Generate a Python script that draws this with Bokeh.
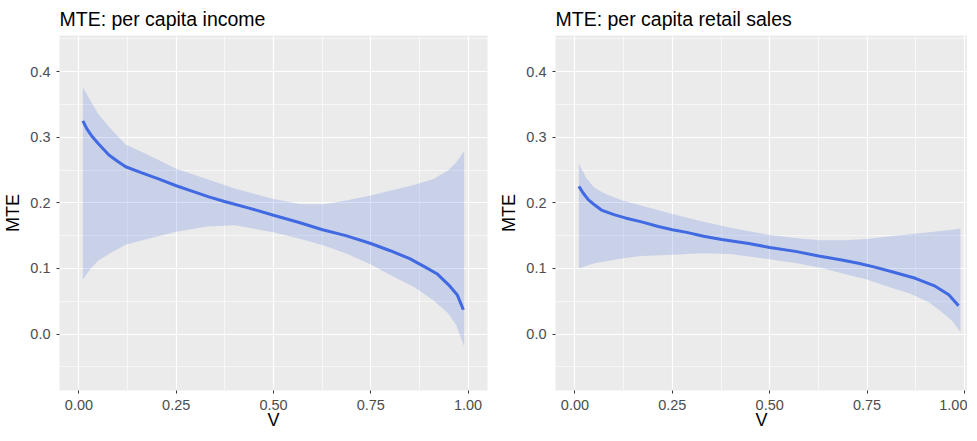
from bokeh.plotting import figure
from bokeh.layouts import row
from bokeh.models import FixedTicker, Range1d
from bokeh.embed import file_html
from bokeh.resources import INLINE

# ---- data ----
band_v = [0.01, 0.03, 0.05, 0.08, 0.12, 0.17, 0.25, 0.33, 0.40, 0.50,
          0.57, 0.63, 0.69, 0.75, 0.81, 0.86, 0.91, 0.95, 0.97, 0.99]

income_upper = [0.376, 0.355, 0.335, 0.314, 0.289, 0.275, 0.252, 0.236, 0.222, 0.206,
                0.198, 0.198, 0.204, 0.211, 0.220, 0.227, 0.236, 0.250, 0.262, 0.279]
income_lower = [0.083, 0.100, 0.112, 0.123, 0.136, 0.144, 0.156, 0.164, 0.166, 0.155,
                0.145, 0.135, 0.122, 0.106, 0.087, 0.072, 0.052, 0.031, 0.013, -0.019]

income_v = [0.01, 0.02, 0.034, 0.05, 0.077, 0.10, 0.12, 0.16, 0.206, 0.25, 0.30, 0.334,
            0.374, 0.437, 0.50, 0.566, 0.626, 0.686, 0.75, 0.80, 0.85, 0.89, 0.92,
            0.95, 0.972, 0.988]
income_mte = [0.325, 0.313, 0.301, 0.290, 0.273, 0.263, 0.255, 0.246, 0.236, 0.226, 0.216,
              0.209, 0.202, 0.192, 0.181, 0.170, 0.159, 0.150, 0.138, 0.127, 0.115, 0.102,
              0.092, 0.075, 0.060, 0.037]

retail_upper = [0.259, 0.237, 0.223, 0.213, 0.204, 0.196, 0.183, 0.171, 0.162, 0.151,
                0.146, 0.143, 0.143, 0.145, 0.149, 0.152, 0.155, 0.158, 0.159, 0.161]
retail_lower = [0.100, 0.104, 0.108, 0.111, 0.115, 0.119, 0.121, 0.123, 0.122, 0.114,
                0.108, 0.101, 0.092, 0.083, 0.071, 0.062, 0.048, 0.030, 0.019, 0.003]

retail_v = [0.01, 0.021, 0.034, 0.05, 0.068, 0.10, 0.129, 0.171, 0.214, 0.25, 0.287, 0.33,
            0.377, 0.446, 0.50, 0.566, 0.626, 0.685, 0.728, 0.77, 0.814, 0.874, 0.925,
            0.96, 0.985]
retail_mte = [0.225, 0.215, 0.205, 0.197, 0.189, 0.182, 0.177, 0.171, 0.164, 0.159, 0.155,
              0.149, 0.144, 0.138, 0.132, 0.126, 0.119, 0.113, 0.108, 0.102, 0.095, 0.085,
              0.073, 0.060, 0.043]

x_ticks = [0.0, 0.25, 0.5, 0.75, 1.0]
x_minor = [0.125, 0.375, 0.625, 0.875]
y_ticks = [0.0, 0.1, 0.2, 0.3, 0.4]
y_minor = [-0.05, 0.05, 0.15, 0.25, 0.35, 0.45]

titles = ["MTE: per capita income", "MTE: per capita retail sales"]

FONT = "Liberation Sans"
LINE_COLOR = "#4169E1"


def make_panel(title, band_x, up, lo, vx, vy, frame_w, border_left, border_right, x_end):
    p = figure(frame_width=frame_w, frame_height=355, output_backend="svg", toolbar_location=None,
               x_range=Range1d(-0.05, x_end), y_range=Range1d(-0.086, 0.455),
               min_border_left=border_left, min_border_right=border_right,
               min_border_top=28, min_border_bottom=42,
               background_fill_color="#EBEBEB", border_fill_color="white",
               outline_line_color=None)
    p.title.text = title
    p.title.text_font = FONT
    p.title.text_font_size = "19.5px"
    p.title.text_font_style = "normal"
    p.title.text_color = "black"
    p.title.offset = 0
    p.title.standoff = 11

    p.varea(x=band_x, y1=lo, y2=up, fill_color=LINE_COLOR, fill_alpha=0.2)
    p.line(x=vx, y=vy, line_color=LINE_COLOR, line_width=3)

    p.xaxis.ticker = FixedTicker(ticks=x_ticks, minor_ticks=x_minor)
    p.yaxis.ticker = FixedTicker(ticks=y_ticks, minor_ticks=y_minor)
    p.xaxis.major_label_overrides = {0.0: "0.00", 0.25: "0.25", 0.5: "0.50", 0.75: "0.75", 1.0: "1.00"}
    p.yaxis.major_label_overrides = {0.0: "0.0", 0.1: "0.1", 0.2: "0.2", 0.3: "0.3", 0.4: "0.4"}
    p.xaxis.axis_label = "V"
    p.yaxis.axis_label = "MTE"
    for ax in (p.xaxis, p.yaxis):
        ax.axis_line_color = None
        ax.major_tick_line_color = "#333333"
        ax.major_tick_line_width = 1
        ax.major_tick_out = 3
        ax.major_tick_in = 0
        ax.minor_tick_line_color = None
        ax.major_label_text_font = FONT
        ax.major_label_text_font_size = "14.5px"
        ax.major_label_text_color = "#4D4D4D"
        ax.axis_label_text_font = FONT
        ax.axis_label_text_font_size = "18px"
        ax.axis_label_text_font_style = "normal"
        ax.axis_label_text_color = "black"
    p.yaxis.major_label_standoff = 5
    p.yaxis.axis_label_standoff = 4
    p.xaxis.major_label_standoff = 5
    p.xaxis.axis_label_standoff = -3

    p.xgrid.grid_line_color = "white"
    p.ygrid.grid_line_color = "white"
    p.xgrid.grid_line_width = 1.2
    p.ygrid.grid_line_width = 1.2
    p.xgrid.minor_grid_line_color = "white"
    p.ygrid.minor_grid_line_color = "white"
    p.xgrid.minor_grid_line_width = 0.6
    p.ygrid.minor_grid_line_width = 0.6
    return p


p1 = make_panel(titles[0], band_v, income_upper, income_lower, income_v, income_mte,
                frame_w=428, border_left=53, border_right=8, x_end=1.05)
p2 = make_panel(titles[1], band_v, retail_upper, retail_lower, retail_v, retail_mte,
                frame_w=412, border_left=60, border_right=0, x_end=1.008)

layout = row(p1, p2)
open("out.html", "w").write(file_html(layout, INLINE))
